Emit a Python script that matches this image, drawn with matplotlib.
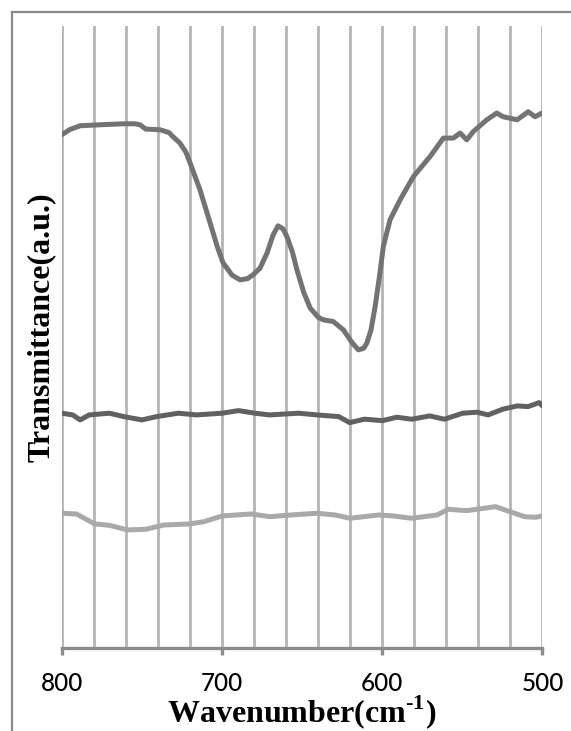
import matplotlib
matplotlib.use("Agg")
import matplotlib.pyplot as plt
from matplotlib.lines import Line2D

# wavenumber (cm-1) and transmittance (a.u.)
top_x = [800.0, 795.0, 788.5, 776.1, 761.2, 754.4, 751.1, 747.6, 738.6, 733.0,
         730.5, 726.2, 722.5, 719.9, 713.7, 707.4, 703.0, 699.3, 693.7, 688.7,
         684.0, 680.6, 676.2, 671.8, 668.1, 665.0, 661.9, 659.4, 656.0, 653.2,
         649.0, 645.0, 640.0, 636.7, 630.5, 624.2, 619.0, 614.9, 611.5, 609.6,
         607.0, 604.4, 601.5, 599.3, 595.1, 588.8, 580.5, 570.1, 561.8, 555.6,
         551.4, 547.2, 543.1, 534.7, 528.5, 524.5, 515.8, 508.9, 504.6, 500.0]
top_y = [513.3, 518.5, 522.3, 523.3, 524.3, 524.3, 523.3, 519.0, 518.3, 515.5,
         511.3, 505.0, 496.0, 485.3, 458.3, 425.3, 402.0, 385.3, 373.0, 368.3,
         369.5, 373.3, 380.0, 395.3, 413.0, 422.3, 419.3, 411.3, 396.0, 378.3,
         356.0, 340.3, 331.0, 328.3, 326.6, 318.3, 306.0, 298.3, 300.0, 305.0,
         318.0, 341.6, 374.0, 401.6, 428.3, 448.3, 471.6, 491.6, 510.0, 510.0,
         515.0, 508.3, 516.6, 528.3, 535.0, 531.3, 528.3, 536.3, 531.3, 535.3]

mid_x = [800.0, 793.1, 788.5, 782.8, 770.3, 761.2, 749.9, 740.8, 727.2, 715.8,
         699.9, 689.6, 679.4, 670.3, 652.1, 640.8, 627.1, 620.3, 611.2, 599.8,
         590.8, 581.6, 570.3, 561.2, 549.8, 540.8, 533.9, 524.8, 515.7, 508.9,
         502.1, 500.0]
mid_y = [235.0, 233.3, 228.3, 233.3, 235.0, 231.6, 228.3, 231.6, 235.0, 233.3,
         235.0, 237.6, 235.0, 233.3, 235.0, 233.3, 231.6, 225.6, 229.0, 227.6,
         231.0, 229.0, 232.3, 229.0, 235.0, 236.0, 233.3, 239.0, 242.3, 241.6,
         245.6, 242.3]

low_x = [800.0, 790.8, 779.4, 770.3, 758.9, 747.6, 736.2, 720.3, 711.2, 699.9,
         681.6, 670.3, 656.7, 640.8, 629.4, 620.3, 602.1, 593.0, 581.6, 565.7,
         558.9, 547.6, 540.8, 529.3, 520.3, 511.2, 504.4, 500.0]
low_y = [135.0, 134.3, 124.3, 123.0, 118.3, 119.0, 123.3, 124.3, 126.6, 132.3,
         134.3, 131.6, 133.3, 135.0, 133.3, 130.0, 133.3, 132.3, 130.0, 133.3,
         139.0, 137.6, 139.0, 141.6, 136.6, 131.6, 131.0, 132.3]

plt.rcParams["mathtext.fontset"] = "custom"
plt.rcParams["mathtext.rm"] = "Liberation Serif:bold"
plt.rcParams["mathtext.bf"] = "Liberation Serif:bold"

fig = plt.figure(figsize=(5.71, 7.31), dpi=100)
ax = fig.add_axes([0.108, 0.1131, 0.842, 0.8513])

for xv in range(500, 801, 20):
    ax.axvline(xv, color="#b4b4b4", linewidth=2.0, zorder=1)

kw = dict(linewidth=3.6, solid_joinstyle="round", solid_capstyle="round", zorder=3)
ax.plot(top_x, top_y, color="#737373", **kw)
ax.plot(mid_x, mid_y, color="#616161", **kw)
ax.plot(low_x, low_y, color="#a9a9a9", **kw)

ax.set_xlim(800, 500)
ax.set_ylim(0, 622)
ax.set_xticks([800, 700, 600, 500])
ax.set_yticks([])
for s in ["top", "right", "left"]:
    ax.spines[s].set_visible(False)
ax.spines["bottom"].set_color("#8c8c8c")
ax.spines["bottom"].set_linewidth(2.4)
ax.spines["bottom"].set_zorder(2)
ax.tick_params(axis="x", direction="out", length=5, width=2.4, color="#8c8c8c",
               pad=12, labelsize=17.5)
for lab in ax.get_xticklabels():
    lab.set_fontfamily("Lato")
    lab.set_fontweight("medium")

fig.text(0.529, 1 - 712 / 731, r"Wavenumber(cm$^{\text{-1}}$)", ha="center", va="center",
         fontsize=23, fontweight="bold", family="Liberation Serif")
fig.text(41.7 / 571, 1 - 327 / 731, "Transmittance(a.u.)", ha="center", va="center",
         rotation=90, fontsize=23, fontweight="bold", family="Liberation Serif")

# outer frame (only top and left edges fall inside the picture)
fx, fy = 11.7 / 571, 1 - 11.7 / 731
fig.add_artist(Line2D([fx, 1.01], [fy, fy], color="#8a8a8a", linewidth=1.6))
fig.add_artist(Line2D([fx, fx], [fy, -0.01], color="#8a8a8a", linewidth=1.6))

fig.savefig("out.png", dpi=100)
